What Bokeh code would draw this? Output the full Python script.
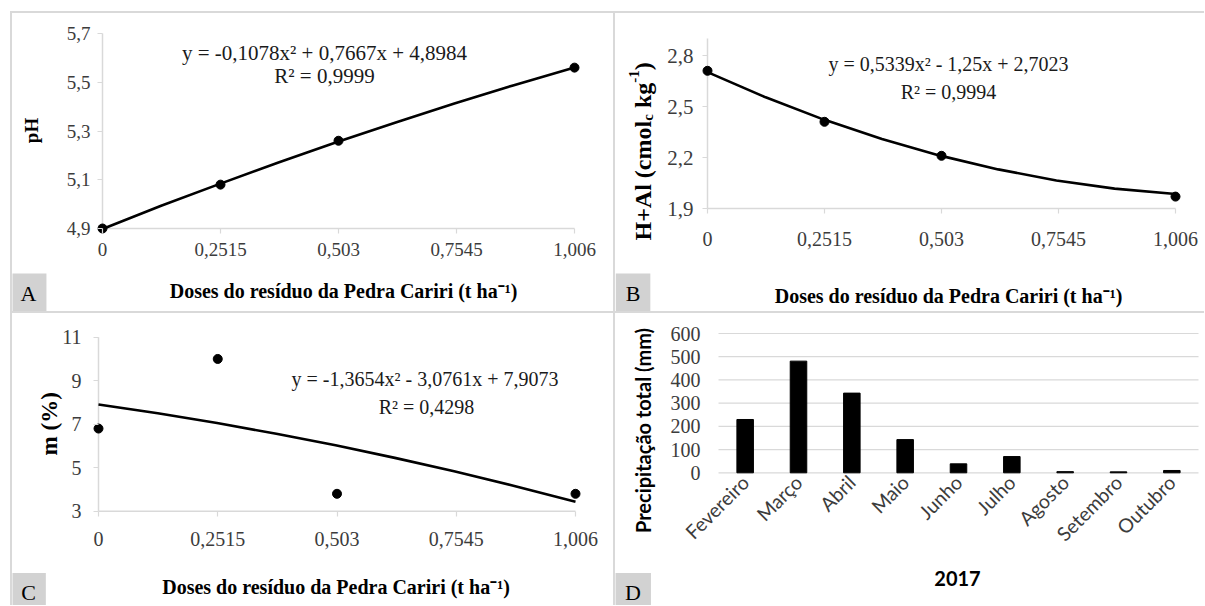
import math
from bokeh.plotting import figure
from bokeh.models import FixedTicker, CustomJSTickFormatter, Label, Spacer
from bokeh.layouts import column, row
from bokeh.embed import file_html
from bokeh.resources import INLINE

# ---------------- data ----------------
doses = [0, 0.2515, 0.503, 1.006]
dose_ticks = [0, 0.2515, 0.503, 0.7545, 1.006]
trend_x = [0, 0.125, 0.25, 0.375, 0.5, 0.625, 0.75, 0.875, 1.006]

ph_obs = [4.90, 5.08, 5.26, 5.56]
ph_trend = [4.898, 4.993, 5.083, 5.171, 5.255, 5.335, 5.413, 5.487, 5.561]
ph_yticks = [4.9, 5.1, 5.3, 5.5, 5.7]
ph_eq = "y = -0,1078x² + 0,7667x + 4,8984"
ph_r2 = "R² = 0,9999"

hal_obs = [2.71, 2.41, 2.21, 1.97]
hal_trend = [2.702, 2.554, 2.423, 2.309, 2.211, 2.130, 2.065, 2.017, 1.985]
hal_yticks = [1.9, 2.2, 2.5, 2.8]
hal_axis_max = 2.9
hal_eq = "y = 0,5339x² - 1,25x + 2,7023"
hal_r2 = "R² = 0,9994"

m_obs = [6.8, 10.0, 3.8, 3.8]
m_trend = [7.907, 7.502, 7.053, 6.562, 6.028, 5.451, 4.832, 4.170, 3.431]
m_yticks = [3, 5, 7, 9, 11]
m_eq = "y = -1,3654x² - 3,0761x + 7,9073"
m_r2 = "R² = 0,4298"

months = ["Fevereiro", "Março", "Abril", "Maio", "Junho", "Julho", "Agosto", "Setembro", "Outubro"]
rain = [229.6, 481.0, 343.2, 143.0, 38.6, 70.0, 5.0, 4.0, 10.0]
rain_yticks = [0, 100, 200, 300, 400, 500, 600]

x_title = "Doses do resíduo da Pedra Cariri (t ha⁻¹)"

# ---------------- style ----------------
SERIF = "Liberation Serif"
SANS = "Lato"
GRAY_LINE = "#d9d9d9"
BOX_GRAY = "#d2d2d2"
TICK_COLOR = "#3c3c3c"
COMMA = "return String(tick).replace('.', ',');"


def mapper(p0, v0, p1, v1):
    k = (v1 - v0) / (p1 - p0)
    return lambda px: v0 + (px - p0) * k


def make_fig(w, h, ox, oy, fx, fy):
    p = figure(width=w, height=h, x_range=(fx(ox), fx(ox + w)), y_range=(fy(oy + h), fy(oy)),
               output_backend="svg", toolbar_location=None,
               min_border_left=0, min_border_right=0, min_border_top=0, min_border_bottom=0)
    p.title.visible = False
    p.outline_line_color = None
    p.background_fill_color = "white"
    p.border_fill_color = "white"
    p.grid.visible = False
    for ax in (p.xaxis[0], p.yaxis[0]):
        ax.axis_line_color = None
        ax.major_tick_line_color = None
        ax.minor_tick_line_color = None
        ax.major_tick_out = 0
        ax.major_tick_in = 0
        ax.major_label_text_color = TICK_COLOR
    return p


def serif_axes(p, xsize, ysize, xstand, ystand, xloc, yloc):
    for ax, sz, st, loc in ((p.xaxis[0], xsize, xstand, xloc), (p.yaxis[0], ysize, ystand, yloc)):
        ax.major_label_text_font = SERIF
        ax.major_label_text_font_size = sz
        ax.major_label_standoff = st
        ax.fixed_location = loc
        ax.major_tick_out = 5
        ax.major_tick_line_color = GRAY_LINE
        ax.major_tick_line_width = 1.2
        ax.formatter = CustomJSTickFormatter(code=COMMA)


def text(p, x, y, txt, size, font=SERIF, bold=False, angle=0.0, align="center",
         baseline="middle", color="black"):
    p.add_layout(Label(x=x, y=y, text=txt, text_font=font, text_font_size=size,
                       text_font_style="bold" if bold else "normal", angle=angle,
                       text_align=align, text_baseline=baseline, text_color=color))


def letter(p, txt, x, y):
    p.add_layout(Label(x=x, y=y, text=txt, text_font=SERIF, text_font_size="22px",
                       text_color="black", text_align="center", text_baseline="middle",
                       background_fill_color=BOX_GRAY, border_line_color=None,
                       padding=dict(left=10, right=10, top=7, bottom=7)))


def reg_marks(p, xs, ys, tx, ty, xaxis_y, yaxis_top):
    p.line([dose_ticks[0], dose_ticks[-1]], [xaxis_y, xaxis_y], line_color=GRAY_LINE, line_width=1.5)
    p.line([dose_ticks[0], dose_ticks[0]], [xaxis_y, yaxis_top], line_color=GRAY_LINE, line_width=1.5)
    p.line(tx, ty, line_color="black", line_width=2.6)
    p.scatter(xs, ys, size=9, color="black")


ROT = math.pi / 2

# ---------------- Panel A ----------------
fxA = mapper(102, dose_ticks[0], 574, dose_ticks[-1])
fyA = mapper(33, ph_yticks[-1], 228, ph_yticks[0])
pA = make_fig(601, 298, 12, 13, fxA, fyA)
serif_axes(pA, "19px", "19px", 9, 7, ph_yticks[0], dose_ticks[0])
pA.xaxis.ticker = FixedTicker(ticks=dose_ticks)
pA.yaxis.ticker = FixedTicker(ticks=ph_yticks)
reg_marks(pA, doses, ph_obs, trend_x, ph_trend, ph_yticks[0], ph_yticks[-1])
text(pA, fxA(324), fyA(52), ph_eq, "21px", color="#1a1a1a")
text(pA, fxA(324), fyA(75), ph_r2, "21px", color="#1a1a1a")
text(pA, fxA(343), fyA(290), x_title, "20px", bold=True)
text(pA, fxA(31), fyA(130), "pH", "19px", bold=True, angle=ROT)
letter(pA, "A", fxA(28), fyA(292.5))

# ---------------- Panel B ----------------
fxB = mapper(707, dose_ticks[0], 1175, dose_ticks[-1])
fyB = mapper(55, hal_yticks[-1], 208, hal_yticks[0])
pB = make_fig(589, 298, 615, 13, fxB, fyB)
serif_axes(pB, "20px", "21px", 18, 9, hal_yticks[0], dose_ticks[0])
pB.xaxis.ticker = FixedTicker(ticks=dose_ticks)
pB.yaxis.ticker = FixedTicker(ticks=hal_yticks)
reg_marks(pB, doses, hal_obs, trend_x, hal_trend, hal_yticks[0], hal_axis_max)
text(pB, fxB(948), fyB(63.3), hal_eq, "20px", color="#1a1a1a")
text(pB, fxB(948), fyB(91.7), hal_r2, "20px", color="#1a1a1a")
text(pB, fxB(948), fyB(295), x_title, "20px", bold=True)
letter(pB, "B", fxB(632.5), fyB(292.5))
# rotated y title: H+Al (cmol_c kg^-1)
for txt, sz, bx, by in [("H+Al (cmol", "24px", 642, 240.0),
                        ("c", "15px", 647, 120.3),
                        ("kg", "24px", 642, 107.6),
                        ("-1", "15px", 633, 82.3),
                        (")", "24px", 642, 69.8)]:
    text(pB, fxB(bx), fyB(by), txt, sz, bold=True, angle=ROT, align="left", baseline="alphabetic")

# ---------------- Panel C ----------------
fxC = mapper(98, dose_ticks[0], 575, dose_ticks[-1])
fyC = mapper(336.7, m_yticks[-1], 510.7, m_yticks[0])
pC = make_fig(601, 292, 12, 313, fxC, fyC)
serif_axes(pC, "20px", "20px", 16, 12, m_yticks[0], dose_ticks[0])
pC.xaxis.ticker = FixedTicker(ticks=dose_ticks)
pC.yaxis.ticker = FixedTicker(ticks=m_yticks)
reg_marks(pC, doses, m_obs, trend_x, m_trend, m_yticks[0], m_yticks[-1])
text(pC, fxC(424.5), fyC(378.3), m_eq, "20px", color="#1a1a1a")
text(pC, fxC(426), fyC(406), m_r2, "20px", color="#1a1a1a")
text(pC, fxC(335.5), fyC(586.7), x_title, "20px", bold=True)
text(pC, fxC(48.6), fyC(423.3), "m (%)", "23px", bold=True, angle=ROT)
letter(pC, "C", fxC(28), fyC(592))

# ---------------- Panel D ----------------
fxD = mapper(718, 0, 1198, len(months))
fyD = mapper(333, rain_yticks[-1], 472.3, rain_yticks[0])
pD = make_fig(589, 292, 615, 313, fxD, fyD)
month_x = [i + 0.5 for i in range(len(months))]
pD.segment(x0=[0] * len(rain_yticks), x1=[len(months)] * len(rain_yticks),
           y0=rain_yticks, y1=rain_yticks, line_color=GRAY_LINE, line_width=1.2)
pD.vbar(x=month_x, top=rain, width=0.31, color="black")
pD.yaxis.ticker = FixedTicker(ticks=rain_yticks)
pD.yaxis.fixed_location = 0
pD.yaxis.major_label_text_font = SERIF
pD.yaxis.major_label_text_font_size = "20px"
pD.yaxis.major_label_standoff = 18
pD.xaxis.ticker = FixedTicker(ticks=month_x)
pD.xaxis.major_label_overrides = {mx: m for mx, m in zip(month_x, months)}
pD.xaxis.fixed_location = rain_yticks[0]
pD.xaxis.major_label_text_font = SANS
pD.xaxis.major_label_text_font_size = "19.5px"
pD.xaxis.major_label_orientation = math.pi / 4
pD.xaxis.major_label_standoff = 6
text(pD, fxD(957), fyD(578), "2017", "20px", font=SANS, bold=True)
text(pD, fxD(642), fyD(430), "Precipitação total (mm)", "20px", font=SANS, bold=True, angle=ROT)
letter(pD, "D", fxD(632.5), fyD(592))

# ---------------- layout with panel divider lines ----------------
def gray(w, h):
    return Spacer(width=w, height=h, styles={"background-color": GRAY_LINE})


layout = column(
    Spacer(width=1204, height=11),
    row(Spacer(width=10, height=2), gray(1194, 2)),
    row(Spacer(width=10, height=298), gray(2, 298), pA, gray(2, 298), pB),
    row(Spacer(width=10, height=2), gray(1194, 2)),
    row(Spacer(width=10, height=292), gray(2, 292), pC, gray(2, 292), pD),
)

open("out.html", "w").write(file_html(layout, INLINE))
